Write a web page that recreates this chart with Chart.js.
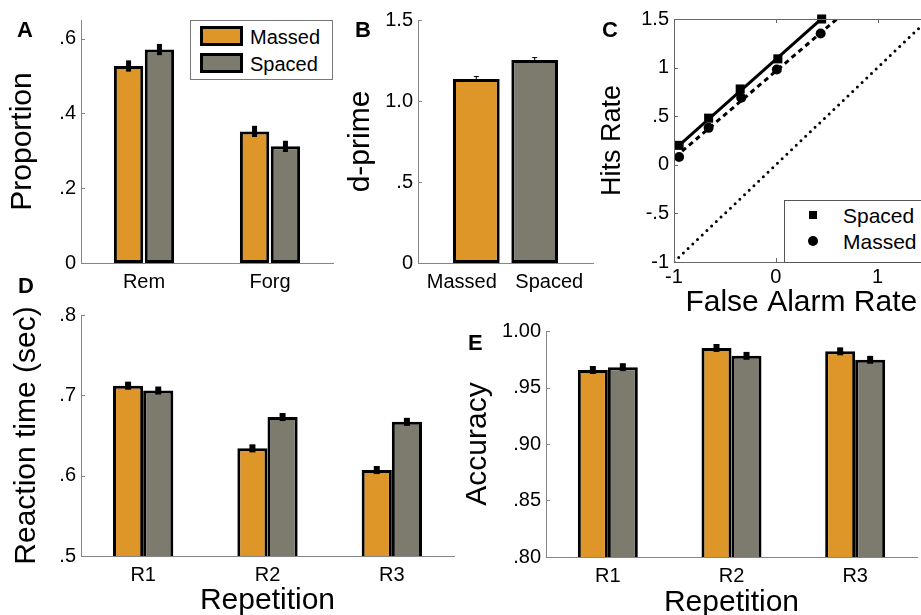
<!DOCTYPE html>
<html>
<head>
<meta charset="utf-8">
<script src="https://cdn.jsdelivr.net/npm/chart.js@4"></script>
<style>
  body { margin:0; width:921px; height:615px; overflow:hidden; position:relative; background:#fff; font-family:"Liberation Sans", Arial, sans-serif; }
  canvas { position:absolute; }
  .lt { position:absolute; font-weight:bold; font-size:22px; line-height:1; }
  .leg { position:absolute; box-sizing:border-box; background:#fff; }
  .leg span { position:absolute; }
  .leg .tx { line-height:1; color:#000; }
</style>
</head>
<body>
<canvas id="cA" width="345" height="300" style="left:0;top:0"></canvas>
<canvas id="cB" width="275" height="300" style="left:330px;top:0"></canvas>
<canvas id="cC" width="345" height="325" style="left:590px;top:0"></canvas>
<canvas id="cD" width="470" height="330" style="left:0;top:290px"></canvas>
<canvas id="cE" width="461" height="322" style="left:460px;top:300px"></canvas>

<div class="lt" style="left:17px;top:19px">A</div>
<div class="lt" style="left:355px;top:19px">B</div>
<div class="lt" style="left:602px;top:19px">C</div>
<div class="lt" style="left:18px;top:275px">D</div>
<div class="lt" style="left:468px;top:332px">E</div>

<div class="leg" style="left:190px;top:20px;width:143px;height:60px;border:1px solid #777">
  <span style="left:9px;top:5px;width:43px;height:20px;box-sizing:border-box;border:3px solid #000;background:#DF9628"></span>
  <span class="tx" style="left:59px;top:6px;font-size:20px">Massed</span>
  <span style="left:9px;top:32px;width:43px;height:20px;box-sizing:border-box;border:3px solid #000;background:#7D7B6E"></span>
  <span class="tx" style="left:59px;top:33px;font-size:20px">Spaced</span>
</div>
<div class="leg" style="left:784px;top:200px;width:150px;height:63px;border:1px solid #555">
  <span style="left:24px;top:10px;width:8px;height:8px;background:#000"></span>
  <span class="tx" style="left:58px;top:4px;font-size:21px">Spaced</span>
  <span style="left:23px;top:35px;width:10px;height:10px;border-radius:50%;background:#000"></span>
  <span class="tx" style="left:58px;top:30px;font-size:21px">Massed</span>
</div>

<script>
// A: proportion remembered / forgotten
const aCats = ['Rem', 'Forg'];
const aMassed = [0.527, 0.352];
const aSpaced = [0.571, 0.312];
const aMassedErr = [0.015, 0.015];
const aSpacedErr = [0.015, 0.015];

// B: d-prime
const bCats = ['Massed', 'Spaced'];
const bVals = [1.136, 1.253];
const bErr = [0.018, 0.018];

// C: z-ROC
const cSpacedFA = [-0.95, -0.66, -0.35, 0.02, 0.45];
const cSpacedHit = [0.20, 0.48, 0.78, 1.09, 1.50];
const cMassedFA = [-0.95, -0.66, -0.34, 0.01, 0.44];
const cMassedHit = [0.08, 0.38, 0.69, 0.98, 1.35];
const cSpacedFitX = [-0.95, 0.50];
const cSpacedFitY = [0.20, 1.55];
const cMassedFitX = [-0.92, 0.60];
const cMassedFitY = [0.14, 1.50];
const cChance = [-1, 1.5];

// D: reaction time
const reps = ['R1', 'R2', 'R3'];
const dMassed = [0.712, 0.634, 0.607];
const dSpaced = [0.706, 0.673, 0.667];
const dMassedErr = [0.005, 0.005, 0.005];
const dSpacedErr = [0.005, 0.005, 0.005];

// E: accuracy
const eMassed = [0.9655, 0.985, 0.982];
const eSpaced = [0.968, 0.978, 0.9745];
const eMassedErr = [0.0035, 0.0035, 0.0035];
const eSpacedErr = [0.0035, 0.0035, 0.0035];

const ORANGE = '#DF9628', GRAY = '#7D7B6E', AXIS = '#858585';
Chart.defaults.font.family = '"Liberation Sans", Arial, sans-serif';
Chart.defaults.color = '#000';
Chart.defaults.animation = false;

function fmt(v, d) {
  if (Math.abs(v) < 1e-9) return '0';
  let s = v.toFixed(d);
  return s.replace(/^0\./, '.').replace(/^-0\./, '-.');
}
// C shows whole numbers without decimals
function fmtC(v) {
  return Number.isInteger(v) ? String(v) : fmt(v, 1);
}

const errPlugin = {
  id: 'errs',
  afterDatasetsDraw(chart, args, opts) {
    if (!opts.sets) return;
    const ctx = chart.ctx, ys = chart.scales.y;
    opts.sets.forEach((errs, di) => {
      const meta = chart.getDatasetMeta(di);
      meta.data.forEach((bar, j) => {
        const raw = chart.data.datasets[di].data[j];
        const v = (raw && typeof raw === 'object') ? raw.y : raw;
        if (v == null || errs[j] == null) return;
        const t = ys.getPixelForValue(v + errs[j]), b = ys.getPixelForValue(v - errs[j]);
        ctx.save();
        ctx.fillStyle = '#000';
        ctx.fillRect(bar.x - opts.w / 2, t, opts.w, b - t);
        if (opts.cap) {
          ctx.fillRect(bar.x - opts.cap / 2, t, opts.cap, 1);
          ctx.fillRect(bar.x - opts.cap / 2, b - 1, opts.cap, 1);
        }
        ctx.restore();
      });
    });
  }
};

const tickPlugin = {
  id: 'inticks',
  afterDraw(chart, args, opts) {
    const ctx = chart.ctx, a = chart.chartArea, L = opts.len || 4;
    ctx.save();
    ctx.strokeStyle = opts.color || AXIS;
    ctx.lineWidth = 1;
    ctx.beginPath();
    const ys = chart.scales.y;
    ys.ticks.forEach(t => {
      const p = Math.round(ys.getPixelForValue(t.value)) + 0.5;
      ctx.moveTo(a.left, p); ctx.lineTo(a.left + L, p);
      if (opts.box) { ctx.moveTo(a.right, p); ctx.lineTo(a.right - L, p); }
    });
    if (opts.box) {
      const xs = chart.scales.x;
      xs.ticks.forEach(t => {
        const p = Math.round(xs.getPixelForValue(t.value)) + 0.5;
        ctx.moveTo(p, a.bottom); ctx.lineTo(p, a.bottom - L);
        ctx.moveTo(p, a.top); ctx.lineTo(p, a.top + L);
      });
      ctx.rect(Math.round(a.left) + 0.5, Math.round(a.top) + 0.5, Math.round(a.right - a.left), Math.round(a.bottom - a.top));
    }
    ctx.stroke();
    ctx.restore();
  }
};

const tickFont = { size: 20 };
const titleFont = { size: 30 };

function yAxis(min, max, step, dec, width, title, tpad, tsize) {
  return {
    min: min, max: max,
    grid: { display: false, drawTicks: false },
    border: { display: true, color: AXIS, width: 1 },
    ticks: { stepSize: step, includeBounds: false, font: tickFont, padding: 5, callback: v => fmt(v, dec) },
    title: { display: !!title, text: title, font: tsize ? { size: tsize } : titleFont, padding: { top: tpad, bottom: 0 } },
    afterFit: s => { s.width = width; }
  };
}

function barSet(label, vals, color) {
  return { label: label, data: vals, backgroundColor: color, borderColor: '#000', borderWidth: 3, borderSkipped: false };
}

// Panel A
new Chart(document.getElementById('cA'), {
  type: 'bar',
  data: { labels: aCats, datasets: [barSet('Massed', aMassed, ORANGE), barSet('Spaced', aSpaced, GRAY)] },
  options: {
    responsive: false,
    layout: { padding: { left: 0, top: 20, right: 12, bottom: 0 } },
    categoryPercentage: 0.49, barPercentage: 0.95,
    plugins: { legend: { display: false }, tooltip: { enabled: false },
      errs: { sets: [aMassedErr, aSpacedErr], w: 5 }, inticks: {} },
    scales: {
      x: { grid: { display: false, drawTicks: false }, border: { display: true, color: AXIS },
           ticks: { font: tickFont, padding: 7 }, afterFit: s => { s.height = 37; } },
      y: yAxis(0, 0.65, 0.2, 1, 81, 'Proportion', 5)
    }
  },
  plugins: [errPlugin, tickPlugin]
});

// Panel B
new Chart(document.getElementById('cB'), {
  type: 'bar',
  data: { datasets: [{ label: 'd-prime', data: bVals.map((v, i) => ({ x: i + 1, y: v })),
    backgroundColor: [ORANGE, GRAY], borderColor: '#000', borderWidth: 3, borderSkipped: false }] },
  options: {
    responsive: false,
    layout: { padding: { left: 0, top: 20, right: 12, bottom: 0 } },
    categoryPercentage: 0.8, barPercentage: 1,
    plugins: { legend: { display: false }, tooltip: { enabled: false },
      errs: { sets: [bErr], w: 1, cap: 5 }, inticks: {} },
    scales: {
      x: { type: 'linear', min: 0, max: 3, offset: false, grid: { display: false, drawTicks: false },
           border: { display: true, color: AXIS }, ticks: { display: false }, afterFit: s => { s.height = 0; } },
      x2: { type: 'category', position: 'bottom', labels: bCats, offset: true,
            grid: { display: false, drawTicks: false }, border: { display: false },
            ticks: { font: tickFont, padding: 7 }, afterFit: s => { s.height = 37; } },
      y: yAxis(0, 1.5, 0.5, 1, 88, 'd-prime', 13)
    }
  },
  plugins: [errPlugin, tickPlugin]
});

// Panel C
const pts = (xs, ys) => xs.map((x, i) => ({ x: x, y: ys[i] }));
const cY = yAxis(-1, 1.5, 0.5, 1, 84, 'Hits Rate', 6, 27);
cY.border = { display: true, color: '#666' };
cY.ticks.callback = fmtC;
new Chart(document.getElementById('cC'), {
  type: 'scatter',
  data: { datasets: [
    { label: 'Spaced', data: pts(cSpacedFA, cSpacedHit), pointStyle: 'rect', pointRadius: 6.4,
      backgroundColor: '#000', borderColor: '#000', borderWidth: 0, clip: false },
    { label: 'Massed', data: pts(cMassedFA, cMassedHit), pointStyle: 'circle', pointRadius: 5,
      backgroundColor: '#000', borderColor: '#000', borderWidth: 0, clip: false },
    { label: 'Spaced fit', data: pts(cSpacedFitX, cSpacedFitY), showLine: true, pointRadius: 0,
      borderColor: '#000', borderWidth: 3 },
    { label: 'Massed fit', data: pts(cMassedFitX, cMassedFitY), showLine: true, pointRadius: 0,
      borderColor: '#000', borderWidth: 3, borderDash: [5, 4] },
    { label: 'Chance', data: pts(cChance, cChance), showLine: true, pointRadius: 0,
      borderColor: '#000', borderWidth: 3, borderDash: [0, 6.5], borderCapStyle: 'round' }
  ] },
  options: {
    responsive: false,
    layout: { padding: { left: 0, top: 19, right: 6, bottom: 0 } },
    plugins: { legend: { display: false }, tooltip: { enabled: false }, inticks: { box: true, color: '#666' } },
    scales: {
      x: { min: -1, max: 1.5, grid: { display: false, drawTicks: false }, border: { display: true, color: '#666' },
           ticks: { stepSize: 1, includeBounds: false, font: tickFont, padding: 3, callback: fmtC },
           title: { display: true, text: 'False Alarm Rate', font: titleFont, padding: { top: 0, bottom: 4 } },
           afterFit: s => { s.height = 63; } },
      y: cY
    }
  },
  plugins: [tickPlugin]
});

// Panel D
new Chart(document.getElementById('cD'), {
  type: 'bar',
  data: { labels: reps, datasets: [barSet('Massed', dMassed, ORANGE), barSet('Spaced', dSpaced, GRAY)] },
  options: {
    responsive: false,
    layout: { padding: { left: 0, top: 25, right: 16, bottom: 0 } },
    categoryPercentage: 0.485, barPercentage: 1,
    plugins: { legend: { display: false }, tooltip: { enabled: false },
      errs: { sets: [dMassedErr, dSpacedErr], w: 6 }, inticks: {} },
    scales: {
      x: { grid: { display: false, drawTicks: false }, border: { display: true, color: AXIS },
           ticks: { font: tickFont, padding: 7 },
           title: { display: true, text: 'Repetition', font: titleFont, padding: { top: 0, bottom: 1 } },
           afterFit: s => { s.height = 64; } },
      y: yAxis(0.5, 0.8, 0.1, 1, 81, 'Reaction time (sec)', 9)
    }
  },
  plugins: [errPlugin, tickPlugin]
});

// Panel E
new Chart(document.getElementById('cE'), {
  type: 'bar',
  data: { labels: reps, datasets: [barSet('Massed', eMassed, ORANGE), barSet('Spaced', eSpaced, GRAY)] },
  options: {
    responsive: false,
    layout: { padding: { left: 0, top: 31, right: 4, bottom: 0 } },
    categoryPercentage: 0.485, barPercentage: 1,
    plugins: { legend: { display: false }, tooltip: { enabled: false },
      errs: { sets: [eMassedErr, eSpacedErr], w: 6 }, inticks: {} },
    scales: {
      x: { grid: { display: false, drawTicks: false }, border: { display: true, color: AXIS },
           ticks: { font: tickFont, padding: 7 },
           title: { display: true, text: 'Repetition', font: titleFont, padding: { top: 0, bottom: 1 } },
           afterFit: s => { s.height = 65; } },
      y: yAxis(0.8, 1.0, 0.05, 2, 86, 'Accuracy', 0)
    }
  },
  plugins: [errPlugin, tickPlugin]
});
</script>
</body>
</html>
